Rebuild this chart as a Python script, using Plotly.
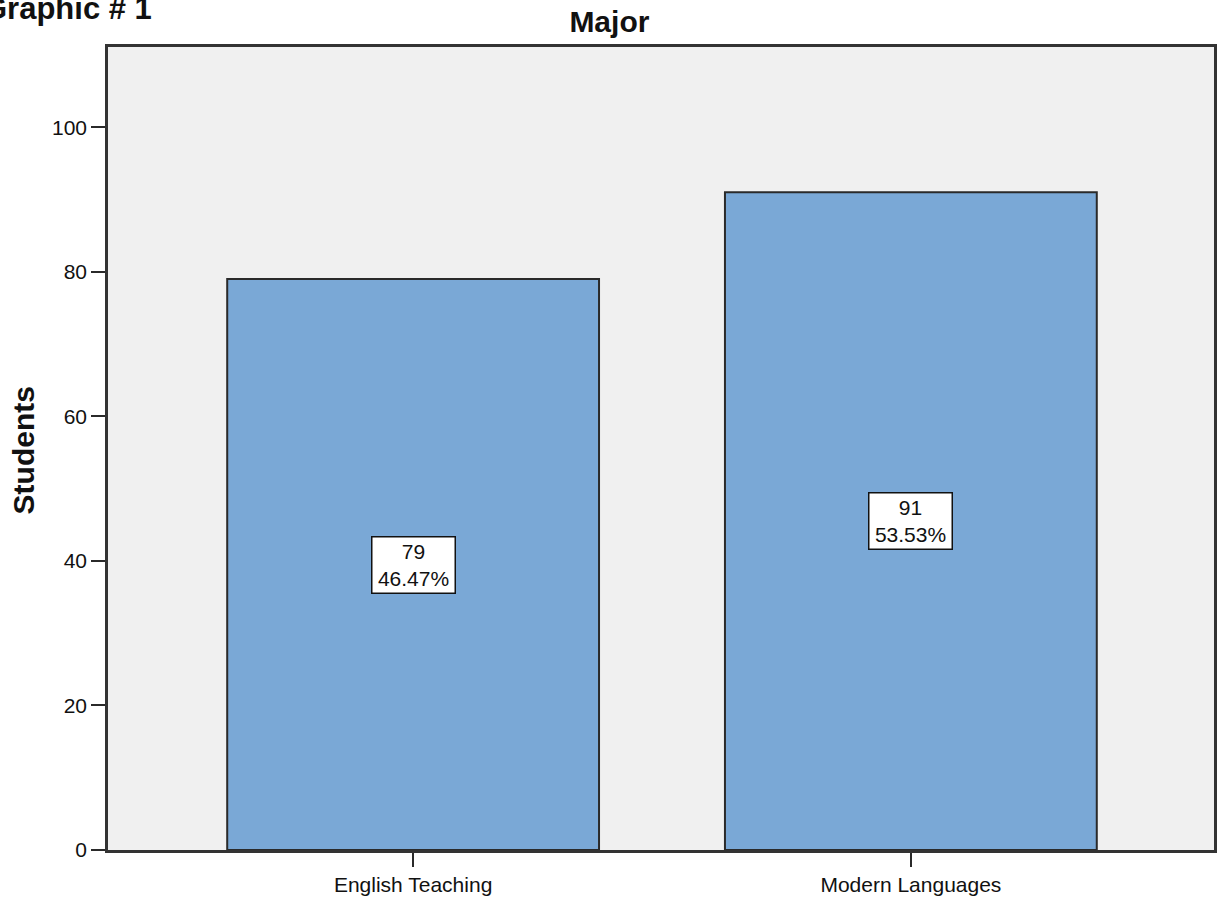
import plotly.graph_objects as go

# Frequency counts by major
majors = ["English Teaching", "Modern Languages"]
students = [79, 91]
percents = [46.47, 53.53]
y_ticks = [0, 20, 40, 60, 80, 100]

FONT = "Liberation Sans, Arial, sans-serif"
BAR_FILL = "rgb(122,168,214)"
EDGE = "#2a2a2a"

fig = go.Figure()

fig.add_trace(go.Bar(
    x=[0, 1],
    y=students,
    width=0.747,
    marker=dict(color=BAR_FILL, line=dict(color=EDGE, width=2)),
    hoverinfo="skip",
))

# Count / percent label boxes at the middle of each bar
for i, (n, p) in enumerate(zip(students, percents)):
    fig.add_annotation(
        x=i, y=n / 2, xref="x", yref="y",
        text=f"{n}<br>{p:.2f}%",
        showarrow=False,
        font=dict(family=FONT, size=21, color="#111111"),
        bgcolor="white", bordercolor="#111111", borderwidth=1.5,
        borderpad=0, width=82, height=55,
        align="center",
    )

# Axis title for counts
fig.add_annotation(
    x=-0.0766, y=0.498, xref="paper", yref="paper",
    text="<b>Students</b>", textangle=-90, showarrow=False,
    font=dict(family=FONT, size=30, color="#111111"),
    xanchor="center", yanchor="middle",
)

# Figure heading at top-left
fig.add_annotation(
    x=-0.1145, y=1.048, xref="paper", yref="paper",
    text="<b>Graphic # 1</b>", showarrow=False,
    font=dict(family=FONT, size=31, color="#111111"),
    xanchor="left", yanchor="middle",
)

fig.update_layout(
    width=1220, height=899,
    margin=dict(l=108, r=3, t=47, b=37),
    paper_bgcolor="white",
    plot_bgcolor="#f0f0f0",
    showlegend=False,
    title=dict(
        text="<b>Major</b>", x=0.4995, xref="container", xanchor="center",
        y=0.9766, yref="container", yanchor="middle",
        font=dict(family=FONT, size=30, color="#111111"),
    ),
    font=dict(family=FONT, size=21, color="#111111"),
)

fig.update_xaxes(
    range=[-0.613, 1.609],
    tickmode="array", tickvals=[0, 1], ticktext=majors,
    ticks="outside", ticklen=14, tickwidth=1.5, tickcolor=EDGE,
    showline=True, linecolor="#333333", linewidth=2.5, mirror=True,
    showgrid=False, zeroline=False,
    tickfont=dict(family=FONT, size=21, color="#111111"),
)

fig.update_yaxes(
    range=[0, 111.1],
    tickmode="array", tickvals=y_ticks,
    ticks="outside", ticklen=14, tickwidth=1.5, tickcolor=EDGE,
    showline=True, linecolor="#333333", linewidth=2.5, mirror=True,
    showgrid=False, zeroline=False,
    tickfont=dict(family=FONT, size=21, color="#111111"),
)

fig.write_html("out.html")
